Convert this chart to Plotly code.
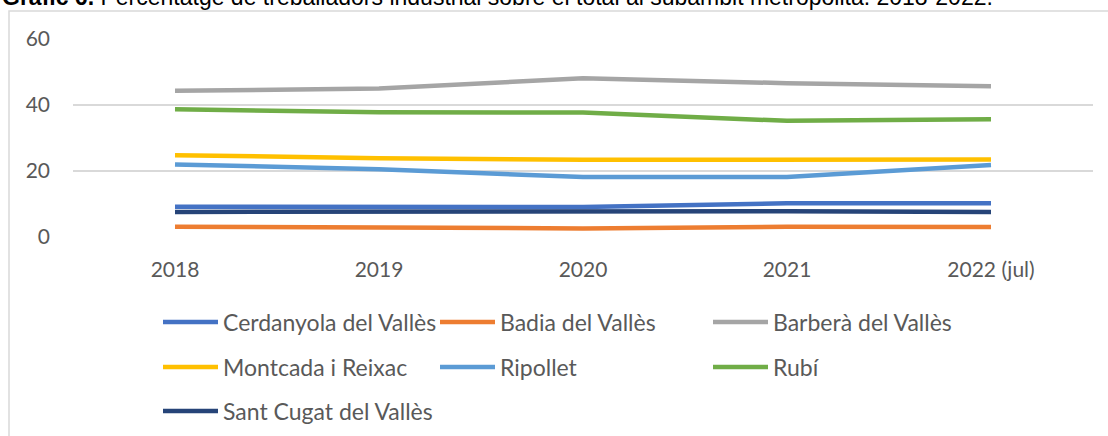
import plotly.graph_objects as go

years = ["2018", "2019", "2020", "2021", "2022 (jul)"]
cerdanyola = [9.2, 9.0, 9.1, 10.2, 10.2]
badia = [3.1, 2.8, 2.6, 3.1, 3.0]
barbera = [44.3, 45.0, 48.1, 46.6, 45.7]
montcada = [24.8, 23.9, 23.4, 23.5, 23.5]
ripollet = [22.0, 20.5, 18.2, 18.2, 21.8]
rubi = [38.7, 37.8, 37.7, 35.2, 35.7]
santcugat = [7.6, 7.7, 7.7, 7.8, 7.6]

names = ["Cerdanyola del Vallès", "Badia del Vallès", "Barberà del Vallès",
         "Montcada i Reixac", "Ripollet", "Rubí", "Sant Cugat del Vallès"]
series = [cerdanyola, badia, barbera, montcada, ripollet, rubi, santcugat]
colors = ["#4472C4", "#ED7D31", "#A5A5A5", "#FFC000", "#5B9BD5", "#70AD47", "#264478"]

W, H = 1108, 436
L, R_px, T, B = 73, 1093, 39, 237  # plot area in pixels
pw, ph = R_px - L, B - T

def px_x(x):
    return (x - L) / pw

def px_y(y):
    return (B - y) / ph

FONT = "Lato, Open Sans, sans-serif"

fig = go.Figure()
# legend line starts (px) and row centres (px)
leg_pos = [(163, 322), (440, 322), (713, 322),
           (163, 367), (440, 367), (713, 367),
           (163, 411)]
legend_layouts = {}
for i, (nm, vals, col) in enumerate(zip(names, series, colors)):
    lname = "legend" if i == 0 else f"legend{i+1}"
    fig.add_trace(go.Scatter(x=years, y=vals, mode="lines", name=nm,
                             line=dict(color=col, width=4.5),
                             legend=lname, hoverinfo="skip"))
    lx, ly = leg_pos[i]
    legend_layouts[lname] = dict(
        xref="container", yref="container",
        x=(lx - 5) / W, y=1 - ly / H, xanchor="left", yanchor="middle",
        orientation="h", bgcolor="rgba(0,0,0,0)", borderwidth=0,
        font=dict(family=FONT, size=23, color="#595959"),
        itemwidth=55,
    )

fig.update_layout(
    width=W, height=H,
    margin=dict(l=L, r=W - R_px, t=T, b=H - B, pad=0),
    paper_bgcolor="white", plot_bgcolor="white",
    showlegend=True,
    **legend_layouts,
    xaxis=dict(type="category", showgrid=False, zeroline=False, showline=False,
               ticks="", automargin=False,
               tickfont=dict(family=FONT, size=21, color="#595959"),
               ticklabelstandoff=18, range=[-0.5, 4.5]),
    yaxis=dict(range=[0, 60], dtick=20, showgrid=True, gridcolor="#d9d9d9", gridwidth=1.5,
               zeroline=False, showline=False, ticks="", automargin=False,
               tickfont=dict(family=FONT, size=21, color="#595959"),
               ticklabelstandoff=22),
)

# outer frame
fig.add_shape(type="rect", xref="paper", yref="paper",
              x0=px_x(9), x1=px_x(1125), y0=px_y(460), y1=px_y(11),
              line=dict(color="#d9d9d9", width=1.5), fillcolor="rgba(0,0,0,0)", layer="below")

# title (partly cut by the top edge, as in the reference)
fig.add_annotation(xref="paper", yref="paper", x=px_x(0), y=px_y(12),
                   xanchor="left", yanchor="bottom", showarrow=False,
                   text="<b>Gràfic 6.</b> Percentatge de treballadors industrial sobre el total al subàmbit metropolità. 2018-2022.",
                   font=dict(family="Liberation Sans Narrow, Arial Narrow, Liberation Sans, sans-serif",
                             size=23, color="#000000"))

fig.write_html("out.html", config={"displayModeBar": False},
               post_script="document.body.style.margin='0';document.body.style.overflow='hidden';")
